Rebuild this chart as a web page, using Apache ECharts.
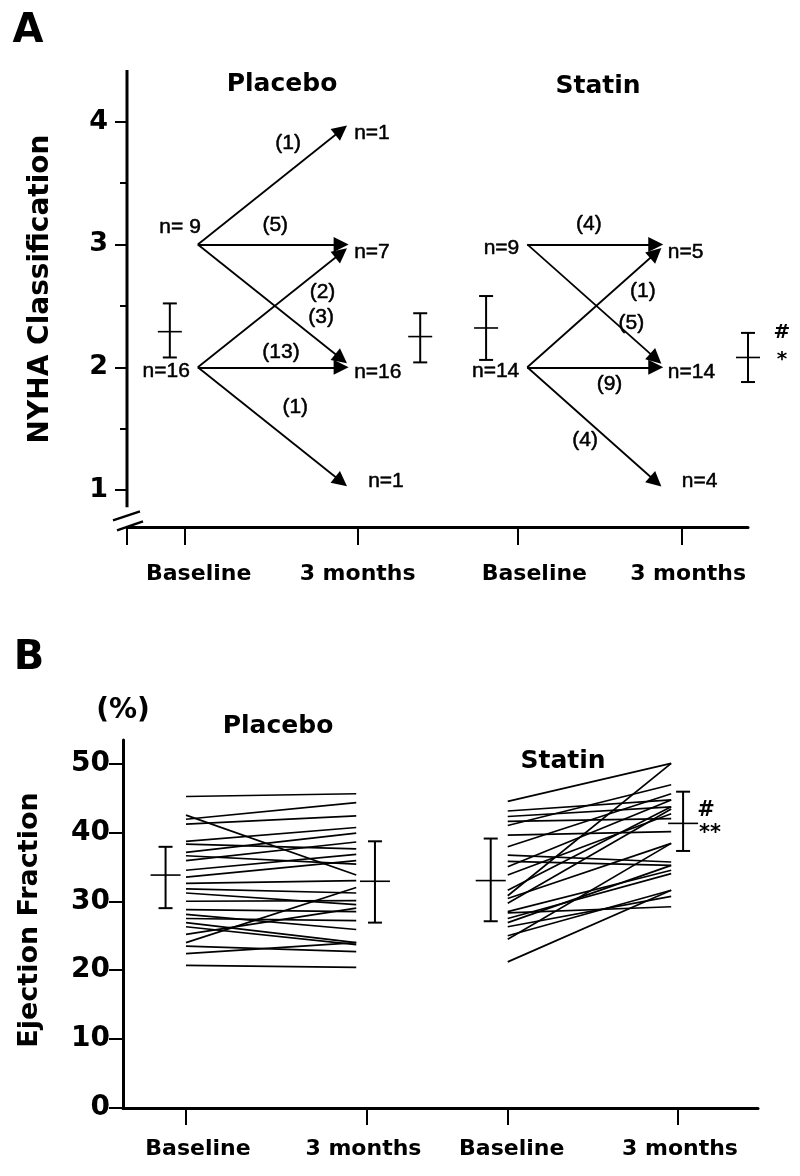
<!DOCTYPE html>
<html>
<head>
<meta charset="utf-8">
<title>NYHA class and ejection fraction, placebo vs statin</title>
<script src="https://cdn.jsdelivr.net/npm/echarts@6/dist/echarts.min.js"></script>
<style>
  html, body { margin: 0; padding: 0; background: #fff; }
  #chart { width: 800px; height: 1176px; }
</style>
</head>
<body>
<div id="chart"></div>
<script>
// ---- A: NYHA class, baseline -> 3 months ----
var timeLabels = ['Baseline', '3 months', 'Baseline', '3 months'];
var nyhaTicks = [1, 2, 3, 4];
var nyhaMinorTicks = [1.5, 2.5, 3.5];

// each arrow: class at baseline, class at 3 months, number of patients
var placeboFrom = [3, 3, 3, 2, 2, 2];
var placeboTo = [4, 3, 2, 3, 2, 1];
var placeboCount = [1, 5, 3, 2, 13, 1];
var statinFrom = [3, 3, 2, 2, 2];
var statinTo = [3, 2, 3, 2, 1];
var statinCount = [4, 5, 1, 9, 4];

// patients per class (classes 4, 3, 2, 1)
var nyhaClasses = [4, 3, 2, 1];
var placeboBaseN = [0, 9, 16, 0];
var placebo3mN = [1, 7, 16, 1];
var statinBaseN = [0, 9, 14, 0];
var statin3mN = [0, 5, 14, 4];

// mean and bar ends: placebo baseline, placebo 3 mo, statin baseline, statin 3 mo
var nyhaMean = [2.29, 2.25, 2.32, 2.08];
var nyhaLow = [2.08, 2.04, 2.06, 1.88];
var nyhaHigh = [2.52, 2.44, 2.58, 2.28];
var nyhaSig = ['', '', '', '#|*'];

// ---- B: ejection fraction (%) per patient ----
var efTicks = [0, 10, 20, 30, 40, 50];
var efPlaceboBase = [45.2, 42.5, 41.9, 41.2, 38.7, 38.3, 37.1, 36.6, 35.9, 34.5, 33.5, 32.6, 31.8,
                     31.2, 30.0, 28.8, 28.1, 27.5, 26.9, 26.3, 25.2, 24.0, 23.5, 22.4, 20.7];
var efPlacebo3m = [45.6, 33.8, 44.3, 42.4, 40.7, 37.6, 39.9, 35.4, 38.6, 36.8, 35.9, 33.0, 31.2,
                   29.5, 30.1, 28.5, 25.9, 27.2, 24.0, 23.7, 29.0, 32.0, 22.7, 24.0, 20.4];
var efStatinBase = [44.5, 43.1, 42.3, 41.6, 41.0, 39.6, 37.9, 36.7, 35.8, 35.0, 33.8, 31.6,
                    30.8, 30.4, 29.7, 28.5, 28.3, 27.5, 26.9, 26.3, 25.0, 24.5, 21.2];
var efStatin3m = [50.0, 44.7, 43.7, 42.0, 46.9, 40.1, 45.6, 35.7, 35.2, 44.7, 42.7, 43.7,
                  50.0, 38.4, 43.4, 34.5, 29.2, 34.0, 35.2, 30.7, 31.6, 38.4, 31.6];
var efMean = [33.8, 32.9, 33.0, 41.3];
var efLow = [29.0, 26.9, 27.1, 37.3];
var efHigh = [37.9, 38.7, 39.1, 45.9];
var efSig = ['', '', '', '#|**'];

// ---- layout (value positions on the x axes) ----
var FONT = 'DejaVu Sans';
var SMALL_FONT = 'Liberation Sans';
var INK = '#000';
var layoutA = {
  xMin: 0.65, xMax: 4.42, yMin: 0.70, yMax: 4.42, axisBreak: 0.86,
  tick: [1, 2.05, 3.02, 4.02],
  labelShift: [14, 0, 17, 6], labelMargin: 36,
  arrowFrom: [1.08, 3.08], arrowTo: [1.95, 3.86], endLabelGap: [13, 12],
  bar: [0.91, 2.43, 2.83, 4.42]
};
var layoutB = {
  xMin: 0.63, xMax: 4.36, yMin: 0, yMax: 53.4,
  tick: [1, 2.06, 2.89, 3.89],
  labelShift: [12, -3, 4, 2], labelMargin: 30,
  lineFrom: [1.0, 2.89], lineTo: [2.0, 3.85],
  bar: [0.88, 2.11, 2.79, 3.92]
};
// where each (n) sits on its arrow: fraction along the arrow, pixel offset
var countPlacement = [
  [[0.63, 0, -29], [0.54, 0, -19], [0.86, 0, -25], [0.87, 0, 24], [0.58, 0, -15], [0.68, 0, -38]],
  [[0.48, 0, -20], [0.81, 0, -14], [0.9, 0, 27], [0.64, 0, 17], [0.45, 0, 21]]
];

var chart = echarts.init(document.getElementById('chart'));

// arrows and their labels
var groups = [
  { from: placeboFrom, to: placeboTo, count: placeboCount, base: placeboBaseN, end: placebo3mN },
  { from: statinFrom, to: statinTo, count: statinCount, base: statinBaseN, end: statin3mN }
];
var arrowData = [];
var textData = [];
groups.forEach(function (g, gi) {
  var x0 = layoutA.arrowFrom[gi], x1 = layoutA.arrowTo[gi];
  g.from.forEach(function (f, i) {
    var y1 = f + 0.93 * (g.to[i] - f); // arrow heads stop a little short
    arrowData.push({ coords: [[x0, f], [x1, y1]] });
    var p = countPlacement[gi][i];
    textData.push({
      name: '(' + g.count[i] + ')',
      value: [x0 + p[0] * (x1 - x0), f + p[0] * (y1 - f)],
      label: { align: 'center', offset: [p[1], p[2]] }
    });
  });
  nyhaClasses.forEach(function (c, k) {
    if (g.base[k]) {
      var above = gi === 0 && c === 3;
      textData.push({
        name: 'n=' + (above ? ' ' : '') + g.base[k],
        value: [x0, c],
        label: { align: 'right', offset: above ? [3, -17] : [-8, 4] }
      });
    }
    if (g.end[k]) {
      textData.push({
        name: 'n=' + g.end[k],
        value: [x1, c],
        label: {
          align: 'left',
          offset: [layoutA.endLabelGap[gi] + (c === 1 ? 14 : 0), c === 4 ? 12 : (c === 3 ? 8 : (c === 2 ? 5 : -9))]
        }
      });
    }
  });
});

// ejection fraction lines, one per patient
var efLines = [];
[[efPlaceboBase, efPlacebo3m], [efStatinBase, efStatin3m]].forEach(function (g, gi) {
  g[0].forEach(function (v, i) {
    efLines.push({ coords: [[layoutB.lineFrom[gi], v], [layoutB.lineTo[gi], g[1][i]]] });
  });
});

function barRows(pos, mean, low, high) {
  return mean.map(function (m, i) { return [pos[i], m, low[i], high[i]]; });
}

function errorBar(meanHalf) {
  return function (params, api) {
    var x = api.value(0);
    var m = api.coord([x, api.value(1)]);
    var lo = api.coord([x, api.value(2)]);
    var hi = api.coord([x, api.value(3)]);
    var cap = 7;
    var st = { stroke: INK, lineWidth: 2 };
    return {
      type: 'group',
      children: [
        { type: 'line', shape: { x1: hi[0], y1: hi[1], x2: lo[0], y2: lo[1] }, style: st },
        { type: 'line', shape: { x1: hi[0] - cap, y1: hi[1], x2: hi[0] + cap, y2: hi[1] }, style: st },
        { type: 'line', shape: { x1: lo[0] - cap, y1: lo[1], x2: lo[0] + cap, y2: lo[1] }, style: st },
        { type: 'line', shape: { x1: m[0] - meanHalf, y1: m[1], x2: m[0] + meanHalf, y2: m[1] },
          style: { stroke: INK, lineWidth: 1.6 } }
      ]
    };
  };
}

// significance marks next to the last bar
function sigRows(pos, mean, high, sig, top, bottom) {
  var out = [];
  sig.forEach(function (s, i) {
    if (!s) return;
    var parts = s.split('|');
    out.push({ name: parts[0], value: [pos[i], top.anchor === 'high' ? high[i] : mean[i]],
               label: { offset: top.offset } });
    out.push({ name: parts[1], value: [pos[i], mean[i]], label: { offset: bottom } });
  });
  return out;
}

// x labels, each nudged sideways like in the figure
function xLabels(layout) {
  var rich = {};
  layout.labelShift.forEach(function (s, i) {
    rich['p' + i] = {
      fontFamily: FONT, fontWeight: 'bold', fontSize: 22, color: INK,
      padding: s >= 0 ? [0, 0, 0, 2 * s] : [0, -2 * s, 0, 0]
    };
  });
  return {
    customValues: layout.tick, margin: layout.labelMargin,
    color: INK, fontFamily: FONT, fontWeight: 'bold', fontSize: 22,
    formatter: function (v) {
      var i = layout.tick.indexOf(v);
      return i < 0 ? '' : '{p' + i + '|' + timeLabels[i] + '}';
    },
    rich: rich
  };
}

var axisLine = { show: true, onZero: false, lineStyle: { color: INK, width: 3 } };
var tickStyle = { color: INK, width: 2 };

function textItem(text, x, y, size, rot) {
  return {
    type: 'text', x: x, y: y, rotation: rot || 0,
    style: { text: text, fontFamily: FONT, fontWeight: 'bold', fontSize: size, fill: INK, align: 'center', verticalAlign: 'middle' }
  };
}

var labelBase = { show: true, position: [0, 0], formatter: '{b}', color: INK, opacity: 1, verticalAlign: 'middle' };
var noSymbol = { opacity: 1, color: INK };

var option = {
  animation: false,
  backgroundColor: '#fff',
  grid: [
    { left: 127, right: 52, top: 70, height: 457, containLabel: false, outerBoundsMode: 'none' },
    { left: 123, right: 42, top: 740, height: 368, containLabel: false, outerBoundsMode: 'none' }
  ],
  xAxis: [
    {
      type: 'value', gridIndex: 0, min: layoutA.xMin, max: layoutA.xMax,
      axisLine: axisLine, splitLine: { show: false },
      axisTick: { customValues: [layoutA.xMin].concat(layoutA.tick), length: 18, lineStyle: tickStyle },
      axisLabel: xLabels(layoutA)
    },
    {
      type: 'value', gridIndex: 1, min: layoutB.xMin, max: layoutB.xMax,
      axisLine: axisLine, splitLine: { show: false },
      axisTick: { customValues: layoutB.tick, length: 17, lineStyle: tickStyle },
      axisLabel: xLabels(layoutB)
    }
  ],
  yAxis: [
    {
      type: 'value', gridIndex: 0, min: layoutA.yMin, max: layoutA.yMax,
      axisLine: { show: false }, splitLine: { show: false },
      axisTick: { customValues: nyhaTicks, length: 12, lineStyle: tickStyle },
      axisLabel: { customValues: nyhaTicks, color: INK, fontFamily: FONT, fontWeight: 'bold', fontSize: 27, margin: 19 }
    },
    {
      type: 'value', gridIndex: 0, position: 'left', min: layoutA.yMin, max: layoutA.yMax,
      axisLine: { show: false }, splitLine: { show: false }, axisLabel: { show: false },
      axisTick: { customValues: nyhaMinorTicks, length: 7, lineStyle: tickStyle }
    },
    {
      type: 'value', gridIndex: 1, min: layoutB.yMin, max: layoutB.yMax,
      axisLine: axisLine, splitLine: { show: false },
      axisTick: { customValues: efTicks, length: 14, lineStyle: tickStyle },
      axisLabel: { customValues: efTicks, color: INK, fontFamily: FONT, fontWeight: 'bold', fontSize: 28, margin: 13 }
    }
  ],
  graphic: [
    textItem('A', 28, 32, 40),
    textItem('B', 29, 659, 40),
    textItem('NYHA Classification', 41, 289, 28, Math.PI / 2),
    textItem('Ejection Fraction', 30, 920, 27, Math.PI / 2),
    textItem('(%)', 123, 711, 28),
    textItem('Placebo', 282, 84, 25),
    textItem('Statin', 598, 86, 25),
    textItem('Placebo', 278, 726, 25),
    textItem('Statin', 563, 761, 25)
  ],
  series: [
    {
      // y axis of panel A, broken just above the x axis
      type: 'custom', xAxisIndex: 0, yAxisIndex: 0, silent: true, clip: false,
      data: [[layoutA.xMin, layoutA.axisBreak]],
      renderItem: function (params, api) {
        var bot = api.coord([layoutA.xMin, layoutA.axisBreak]);
        var top = api.coord([layoutA.xMin, layoutA.yMax]);
        var mark = { stroke: INK, lineWidth: 2.5 };
        return {
          type: 'group',
          children: [
            { type: 'line', shape: { x1: top[0], y1: top[1], x2: bot[0], y2: bot[1] }, style: { stroke: INK, lineWidth: 3 } },
            { type: 'line', shape: { x1: bot[0] - 14, y1: bot[1] + 13, x2: bot[0] + 13, y2: bot[1] + 4 }, style: mark },
            { type: 'line', shape: { x1: bot[0] - 10, y1: bot[1] + 23, x2: bot[0] + 16, y2: bot[1] + 14 }, style: mark }
          ]
        };
      }
    },
    {
      type: 'lines', coordinateSystem: 'cartesian2d', xAxisIndex: 0, yAxisIndex: 0, silent: true,
      symbol: ['none', 'triangle'], symbolSize: [12, 15],
      lineStyle: { color: INK, width: 1.8, opacity: 1 },
      data: arrowData
    },
    {
      type: 'scatter', xAxisIndex: 0, yAxisIndex: 0, silent: true, symbolSize: 0, itemStyle: noSymbol,
      label: Object.assign({ fontFamily: SMALL_FONT, fontSize: 21, textBorderColor: INK, textBorderWidth: 0.5 }, labelBase),
      data: textData
    },
    {
      type: 'custom', xAxisIndex: 0, yAxisIndex: 0, silent: true, clip: false,
      renderItem: errorBar(12),
      data: barRows(layoutA.bar, nyhaMean, nyhaLow, nyhaHigh)
    },
    {
      type: 'scatter', xAxisIndex: 0, yAxisIndex: 0, silent: true, symbolSize: 0, itemStyle: noSymbol,
      label: Object.assign({ fontFamily: FONT, fontWeight: 'bold', fontSize: 20, align: 'center' }, labelBase),
      data: sigRows(layoutA.bar, nyhaMean, nyhaHigh, nyhaSig, { anchor: 'high', offset: [34, 0] }, [34, 2])
    },
    {
      type: 'lines', coordinateSystem: 'cartesian2d', xAxisIndex: 1, yAxisIndex: 2, silent: true,
      symbol: 'none',
      lineStyle: { color: INK, width: 1.7, opacity: 1 },
      data: efLines
    },
    {
      type: 'custom', xAxisIndex: 1, yAxisIndex: 2, silent: true, clip: false,
      renderItem: errorBar(15),
      data: barRows(layoutB.bar, efMean, efLow, efHigh)
    },
    {
      type: 'scatter', xAxisIndex: 1, yAxisIndex: 2, silent: true, symbolSize: 0, itemStyle: noSymbol,
      label: Object.assign({ fontFamily: FONT, fontWeight: 'bold', fontSize: 21, align: 'center' }, labelBase),
      data: sigRows(layoutB.bar, efMean, efHigh, efSig, { anchor: 'mean', offset: [23, -13] }, [27, 10])
    }
  ]
};

chart.setOption(option);
</script>
</body>
</html>
